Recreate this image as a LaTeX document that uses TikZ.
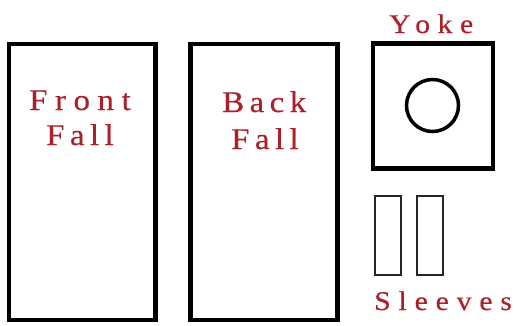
\documentclass[tikz,border=0pt]{standalone}
\usepackage{fontspec}
\setmainfont{Liberation Serif}
\newfontfamily\lblfont{Liberation Serif}[FakeStretch=1.1,FakeBold=0.4]
\definecolor{labelred}{RGB}{172,32,42}
\begin{document}
\begin{tikzpicture}[x=1pt,y=-1pt,
  panel/.style={draw=black,line width=4.5pt},
  sleeve/.style={draw=black!85,line width=2pt},
  lbl/.style={text=labelred,inner sep=0pt,anchor=base west}]
\useasboundingbox (0,0) rectangle (515,325);
\draw[panel] (9,44) rectangle (155.5,320);
\draw[panel] (190.5,44) rectangle (337.5,320);
\draw[panel] (373,43.5) rectangle (493,168.5);
\draw[black,line width=3.5pt] (432.5,105.5) circle (26);
\draw[sleeve] (375,195.5) rectangle (401,275);
\draw[sleeve] (416.5,195.5) rectangle (442.5,275);
\node[lbl,font=\lblfont\fontsize{30}{32}\selectfont\addfontfeatures{LetterSpace=25}] (front1) at (29,110) {Front};
\node[lbl,font=\lblfont\fontsize{30}{32}\selectfont\addfontfeatures{LetterSpace=18}] (front2) at (46,145) {Fall};
\node[lbl,font=\lblfont\fontsize{30}{32}\selectfont\addfontfeatures{LetterSpace=18}] (back1) at (222,112) {Back};
\node[lbl,font=\lblfont\fontsize{30}{32}\selectfont\addfontfeatures{LetterSpace=18}] (back2) at (231,149) {Fall};
\node[lbl,font=\lblfont\fontsize{27}{30}\selectfont\addfontfeatures{LetterSpace=28}] (yoke) at (389,33) {Yoke};
\node[lbl,font=\lblfont\fontsize{27}{30}\selectfont\addfontfeatures{LetterSpace=29}] (sleeves) at (374,310) {Sleeves};
\end{tikzpicture}
\end{document}
